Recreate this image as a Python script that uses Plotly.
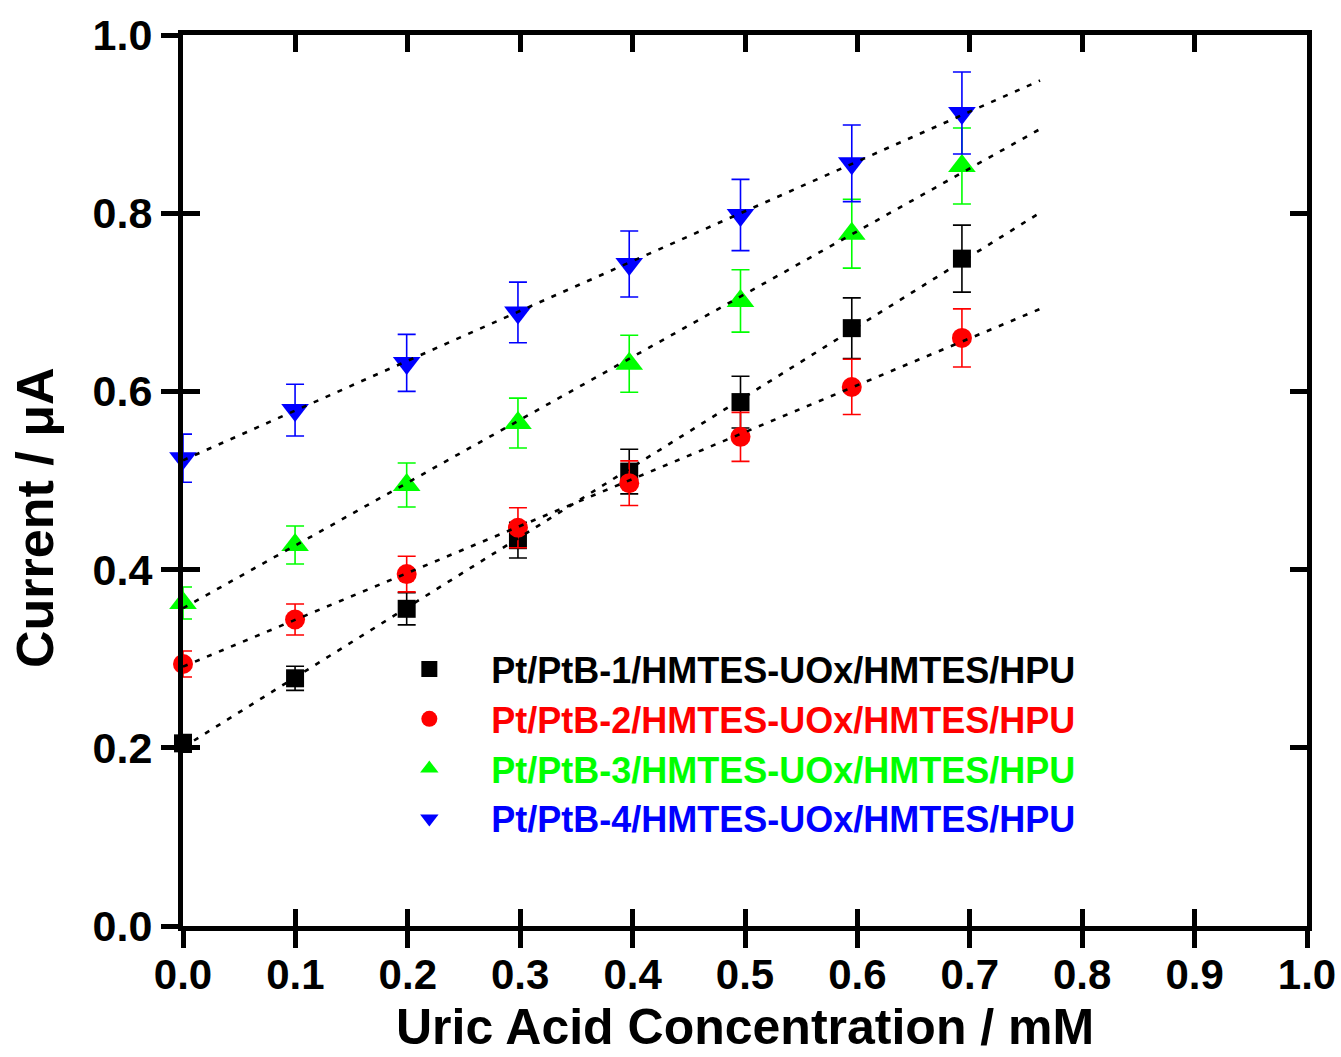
import numpy as np
import plotly.graph_objects as go

# ---- data ----
conc = [0.0, 0.0997, 0.199, 0.298, 0.397, 0.496, 0.595, 0.693]

s1_name = "Pt/PtB-1/HMTES-UOx/HMTES/HPU"
s1_y = [0.205, 0.278, 0.356, 0.433, 0.510, 0.588, 0.671, 0.749]
s1_err = [0.010, 0.0135, 0.018, 0.020, 0.025, 0.029, 0.034, 0.0376]

s2_name = "Pt/PtB-2/HMTES-UOx/HMTES/HPU"
s2_y = [0.294, 0.344, 0.395, 0.447, 0.497, 0.549, 0.605, 0.660]
s2_err = [0.0146, 0.0174, 0.020, 0.0225, 0.025, 0.0275, 0.031, 0.0326]

s3_name = "Pt/PtB-3/HMTES-UOx/HMTES/HPU"
s3_y = [0.3625, 0.4276, 0.495, 0.5645, 0.631, 0.7015, 0.777, 0.853]
s3_err = [0.018, 0.0213, 0.0247, 0.028, 0.032, 0.035, 0.0387, 0.0427]

s4_name = "Pt/PtB-4/HMTES-UOx/HMTES/HPU"
s4_y = [0.525, 0.579, 0.632, 0.6886, 0.743, 0.798, 0.856, 0.9125]
s4_err = [0.027, 0.029, 0.032, 0.034, 0.037, 0.040, 0.043, 0.046]

x_ticks = [0.0, 0.1, 0.2, 0.3, 0.4, 0.5, 0.6, 0.7, 0.8, 0.9, 1.0]
y_ticks = [0.0, 0.2, 0.4, 0.6, 0.8, 1.0]

series = [
    (s1_name, s1_y, s1_err, "#000000", "square", 18),
    (s2_name, s2_y, s2_err, "#ff0000", "circle", 20),
    (s3_name, s3_y, s3_err, "#00ff00", "triangle-up", 24),
    (s4_name, s4_y, s4_err, "#0000ff", "triangle-down", 24),
]

FONT = "Arial, 'Liberation Sans', sans-serif"
fig = go.Figure()

for name, ys, errs, color, sym, size in series:
    fig.add_trace(go.Scatter(
        x=conc, y=ys, mode="markers",
        name=f"<b><span style='color:{color}'>{name}</span></b>",
        marker=dict(symbol=sym, size=size, color=color, line=dict(width=0)),
        error_y=dict(type="data", array=errs, visible=True, color=color,
                     thickness=1.6, width=9),
        cliponaxis=False,
    ))

# linear fits (dotted) drawn over the markers
x_fit = np.array([0.0, 0.7625])
for name, ys, errs, color, sym, size in series:
    k, b = np.polyfit(conc, ys, 1)
    fig.add_trace(go.Scatter(
        x=x_fit, y=k * x_fit + b, mode="lines", showlegend=False,
        line=dict(color="black", width=2.6, dash="5px,8px"),
        hoverinfo="skip",
    ))

# dummy trace on overlay axes so they render
fig.add_trace(go.Scatter(x=[None], y=[None], xaxis="x2", yaxis="y2",
                         showlegend=False, hoverinfo="skip"))

axis_common = dict(showline=True, linecolor="black", linewidth=5,
                   showgrid=False, zeroline=False, tickcolor="black",
                   tickwidth=5, ticklen=17, automargin=False)

fig.update_layout(
    width=1341, height=1057,
    paper_bgcolor="white", plot_bgcolor="white",
    margin=dict(l=183, r=34, t=35, b=131),
    font=dict(family=FONT, color="black"),
    xaxis=dict(
        range=[0, 1.0], tickvals=x_ticks, ticktext=[f"<b>{v:.1f}</b>" for v in x_ticks],
        ticks="outside", mirror=False,
        tickfont=dict(size=42, family=FONT),
        ticklabelstandoff=-9, ticklabeloverflow="allow",
        **axis_common,
    ),
    yaxis=dict(
        range=[0, 1.0], tickvals=y_ticks, ticktext=[f"<b>{v:.1f}</b>" for v in y_ticks],
        ticks="outside", mirror=False,
        tickfont=dict(size=43, family=FONT),
        **axis_common,
    ),
    xaxis2=dict(
        overlaying="x", side="bottom", range=[0, 1.0], tickvals=x_ticks,
        ticks="inside", mirror="ticks", showticklabels=False,
        **axis_common,
    ),
    yaxis2=dict(
        overlaying="y", side="left", range=[0, 1.0], tickvals=y_ticks,
        ticks="inside", mirror="ticks", showticklabels=False,
        **axis_common,
    ),
    legend=dict(
        x=0.164, y=0.322, xanchor="left", yanchor="top",
        bgcolor="rgba(0,0,0,0)", borderwidth=0,
        font=dict(size=36, family=FONT),
        itemwidth=114, tracegroupgap=0,
    ),
    annotations=[
        dict(
            text="<b>Current / μA</b>", textangle=-90,
            xref="paper", yref="paper", x=-0.1317, y=0.459,
            xanchor="center", yanchor="middle", showarrow=False,
            font=dict(size=52, family=FONT, color="black"),
        ),
        dict(
            text="<b>Uric Acid Concentration / mM</b>",
            xref="paper", yref="paper", x=0.5, y=-0.147,
            xanchor="center", yanchor="bottom", showarrow=False,
            font=dict(size=50, family=FONT, color="black"),
        ),
    ],
    showlegend=True,
)

fig.write_html(
    "out.html",
    config={"displayModeBar": False},
    post_script="document.body.style.margin='0';document.body.style.overflow='hidden';",
)
